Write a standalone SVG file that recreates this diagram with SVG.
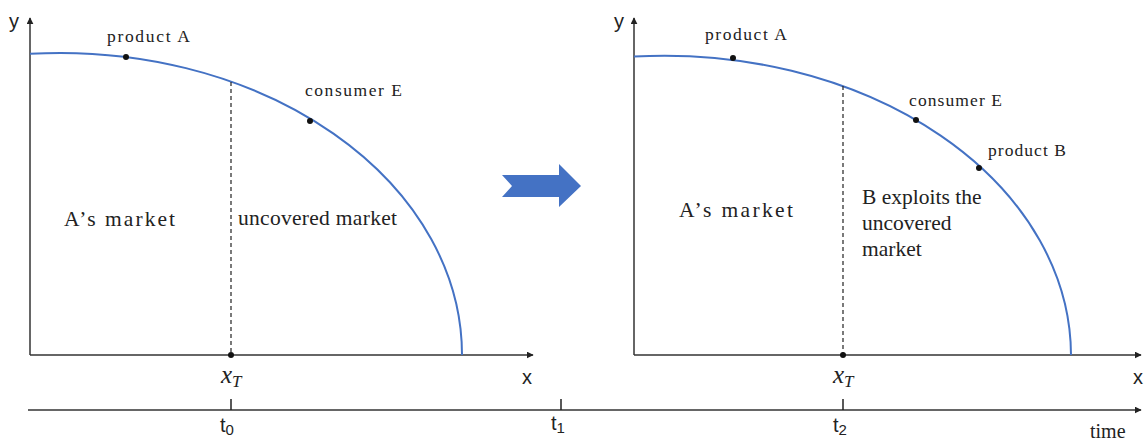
<svg xmlns="http://www.w3.org/2000/svg" width="1144" height="440" viewBox="0 0 1144 440">
<defs>
<marker id="ah" viewBox="0 0 10 10" refX="9" refY="5" markerWidth="7" markerHeight="7" markerUnits="userSpaceOnUse" orient="auto"><path d="M0,0 L10,5 L0,10 z" fill="#222"/></marker>
</defs>
<style>
.ax{stroke:#333;stroke-width:1.5;fill:none}
.curve{stroke:#4472C4;stroke-width:2;fill:none}
.dash{stroke:#222;stroke-width:1.2;stroke-dasharray:4,3;fill:none}
.dot{fill:#111}
.lbl{font-family:"Liberation Serif",serif;font-size:17.5px;fill:#222}
.big{font-family:"Liberation Serif",serif;font-size:21.5px;fill:#222}
.sans{font-family:"Liberation Sans",sans-serif;font-size:20px;fill:#222}
.math{font-family:"Liberation Serif",serif;font-style:italic;font-size:25px;fill:#222}
.time{font-family:"Liberation Serif",serif;font-size:20px;fill:#222}
.tick{stroke:#222;stroke-width:1.5}
</style>
<g id="connectors">
<line class="ax" x1="30" y1="355" x2="30" y2="18" marker-end="url(#ah)"/>
<line class="ax" x1="30" y1="355" x2="533" y2="355" marker-end="url(#ah)"/>
<line class="ax" x1="634" y1="355" x2="634" y2="18" marker-end="url(#ah)"/>
<line class="ax" x1="634" y1="355" x2="1141" y2="355" marker-end="url(#ah)"/>
<line class="ax" x1="28" y1="410" x2="1141" y2="410" marker-end="url(#ah)"/>
<line class="tick" x1="231" y1="399" x2="231" y2="410"/>
<line class="tick" x1="561" y1="399" x2="561" y2="410"/>
<line class="tick" x1="843" y1="399" x2="843" y2="410"/>
<path class="curve" d="M30,53.8 A402,302 0 0 1 462,355"/>
<path class="curve" d="M634,56.5 A407,300 0 0 1 1071,355"/>
<line class="dash" x1="231" y1="82" x2="231" y2="355"/>
<line class="dash" x1="843" y1="86" x2="843" y2="355"/>
</g>
<g id="left-panel">
<text class="sans" x="9" y="28">y</text>
<text class="sans" x="522" y="384">x</text>
<circle class="dot" cx="126" cy="57" r="3"/>
<circle class="dot" cx="310" cy="121" r="3"/>
<circle class="dot" cx="231" cy="355" r="3"/>
<text class="lbl" x="107" y="42" textLength="83" lengthAdjust="spacing">product  A</text>
<text class="lbl" x="305" y="96" textLength="97" lengthAdjust="spacing">consumer  E</text>
<text class="big" x="64" y="226" textLength="111" lengthAdjust="spacing">A’s  market</text>
<text class="big" x="238" y="225" textLength="159" lengthAdjust="spacing">uncovered market</text>
<text class="math" x="221" y="383">x<tspan font-size="17" dy="4">T</tspan></text>
</g>
<g id="transition-arrow">
<path d="M502,175 L559,175 L559,164 L581,186 L559,207 L559,197 L502,197 L512,186 Z" fill="#4472C4"/>
</g>
<g id="right-panel">
<text class="sans" x="614" y="28">y</text>
<text class="sans" x="1133" y="384">x</text>
<circle class="dot" cx="733" cy="58" r="3"/>
<circle class="dot" cx="916" cy="120" r="3"/>
<circle class="dot" cx="979" cy="168" r="3"/>
<circle class="dot" cx="843" cy="355" r="3"/>
<text class="lbl" x="705" y="40" textLength="82" lengthAdjust="spacing">product  A</text>
<text class="lbl" x="909" y="106" textLength="93" lengthAdjust="spacing">consumer E</text>
<text class="lbl" x="988" y="156" textLength="78" lengthAdjust="spacing">product B</text>
<text class="big" x="679" y="217" textLength="114" lengthAdjust="spacing">A’s  market</text>
<text class="big" x="862" y="204">B exploits the</text>
<text class="big" x="862" y="230">uncovered</text>
<text class="big" x="862" y="256">market</text>
<text class="math" x="833" y="383">x<tspan font-size="17" dy="4">T</tspan></text>
</g>
<g id="time-axis">
<text class="sans" x="220" y="432">t<tspan font-size="15" dy="3">0</tspan></text>
<text class="sans" x="551" y="430">t<tspan font-size="15" dy="3">1</tspan></text>
<text class="sans" x="833" y="432">t<tspan font-size="15" dy="3">2</tspan></text>
<text class="time" x="1090" y="438">time</text>
</g>
</svg>
